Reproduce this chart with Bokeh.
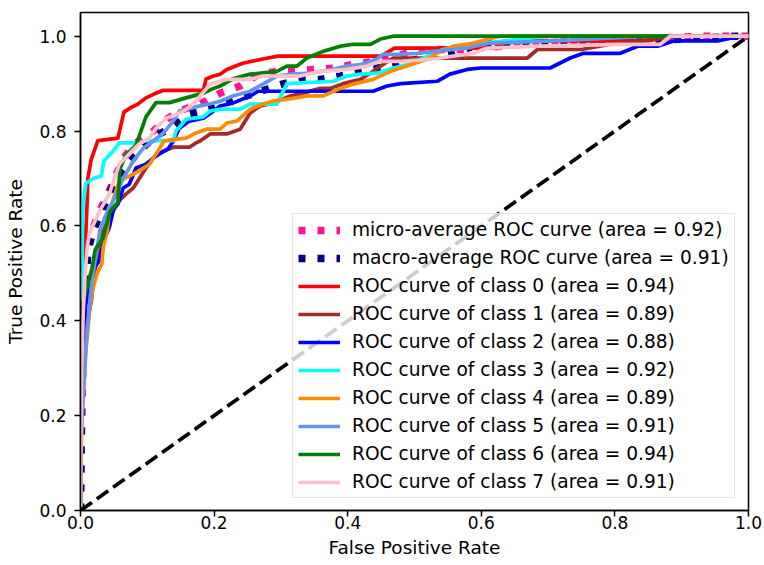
from bokeh.plotting import figure
from bokeh.models import Range1d, FixedTicker, PrintfTickFormatter, Legend, LegendItem
from bokeh.embed import file_html
from bokeh.resources import INLINE

# ---------------- data ----------------
labels = ["micro-average ROC curve (area = 0.92)",
          "macro-average ROC curve (area = 0.91)",
          "ROC curve of class 0 (area = 0.94)",
          "ROC curve of class 1 (area = 0.89)",
          "ROC curve of class 2 (area = 0.88)",
          "ROC curve of class 3 (area = 0.92)",
          "ROC curve of class 4 (area = 0.89)",
          "ROC curve of class 5 (area = 0.91)",
          "ROC curve of class 6 (area = 0.94)",
          "ROC curve of class 7 (area = 0.91)"]

fpr_micro = [0, 0.001, 0.003, 0.006, 0.011, 0.020, 0.028, 0.041, 0.064, 0.083, 0.109, 0.131, 0.148, 0.163, 0.179,
             0.209, 0.239, 0.269, 0.299, 0.354, 0.384, 0.414, 0.444, 0.498, 0.528, 0.579, 0.678, 0.928, 1.0]
tpr_micro = [0, 0.12, 0.27, 0.42, 0.56, 0.60, 0.63, 0.667, 0.743, 0.775, 0.80, 0.827, 0.842, 0.85, 0.857,
             0.88, 0.895, 0.922, 0.926, 0.93, 0.933, 0.943, 0.947, 0.968, 0.972, 0.972, 0.985, 1.0, 1.0]

fpr_macro = [0, 0.002, 0.005, 0.008, 0.011, 0.019, 0.053, 0.088, 0.113, 0.139, 0.163, 0.193, 0.216, 0.302, 0.329,
             0.359, 0.389, 0.419, 0.479, 0.524, 0.558, 0.60, 0.85, 0.98, 1.0]
tpr_macro = [0, 0.30, 0.42, 0.48, 0.547, 0.59, 0.70, 0.758, 0.79, 0.81, 0.836, 0.846, 0.859, 0.899, 0.909,
             0.909, 0.916, 0.926, 0.943, 0.958, 0.964, 0.985, 0.99, 1.0, 1.0]

fpr0 = [0, 0.001, 0.002, 0.004, 0.010, 0.011, 0.016, 0.026, 0.056, 0.065, 0.076, 0.086, 0.098, 0.110, 0.124,
        0.184, 0.188, 0.199, 0.209, 0.219, 0.243, 0.273, 0.296, 0.45, 0.47, 0.62, 0.64, 0.85, 0.88, 1.0]
tpr0 = [0, 0.30, 0.44, 0.46, 0.65, 0.70, 0.74, 0.78, 0.785, 0.84, 0.85, 0.857, 0.87, 0.878, 0.886,
        0.886, 0.91, 0.916, 0.92, 0.93, 0.943, 0.952, 0.958, 0.958, 0.975, 0.975, 0.99, 0.99, 1.0, 1.0]

fpr1 = [0, 0.001, 0.008, 0.017, 0.019, 0.025, 0.029, 0.034, 0.043, 0.058, 0.068, 0.079, 0.088, 0.098, 0.109,
        0.124, 0.139, 0.163, 0.173, 0.179, 0.194, 0.219, 0.239, 0.254, 0.269, 0.288, 0.314, 0.333, 0.359, 0.374,
        0.393, 0.419, 0.434, 0.449, 0.468, 0.669, 0.684, 0.75, 0.80, 0.90, 1.0]
tpr1 = [0, 0.25, 0.38, 0.448, 0.484, 0.533, 0.568, 0.59, 0.617, 0.653, 0.667, 0.68, 0.70, 0.722, 0.743,
        0.758, 0.766, 0.766, 0.775, 0.779, 0.794, 0.794, 0.804, 0.838, 0.853, 0.859, 0.874, 0.88, 0.89, 0.89,
        0.90, 0.909, 0.922, 0.937, 0.954, 0.954, 0.972, 0.972, 0.985, 1.0, 1.0]

fpr2 = [0, 0.001, 0.004, 0.010, 0.017, 0.028, 0.035, 0.043, 0.050, 0.056, 0.061, 0.064, 0.073, 0.083, 0.098,
        0.109, 0.118, 0.131, 0.139, 0.148, 0.163, 0.184, 0.199, 0.209, 0.228, 0.254, 0.266, 0.438, 0.459, 0.479,
        0.534, 0.553, 0.579, 0.599, 0.703, 0.733, 0.753, 0.808, 0.834, 0.864, 0.888, 0.954, 0.973, 0.992, 1.0]
tpr2 = [0, 0.23, 0.38, 0.46, 0.505, 0.526, 0.57, 0.596, 0.638, 0.646, 0.667, 0.68, 0.688, 0.722, 0.73,
        0.743, 0.752, 0.762, 0.779, 0.806, 0.821, 0.827, 0.842, 0.853, 0.859, 0.874, 0.884, 0.884, 0.895, 0.90,
        0.905, 0.92, 0.93, 0.933, 0.933, 0.954, 0.964, 0.964, 0.979, 0.979, 0.99, 0.99, 0.996, 1.0, 1.0]

fpr3 = [0, 0.001, 0.002, 0.003, 0.004, 0.008, 0.019, 0.031, 0.035, 0.049, 0.058, 0.088, 0.098, 0.139, 0.143,
        0.158, 0.184, 0.194, 0.209, 0.239, 0.254, 0.294, 0.309, 0.378, 0.399, 0.419, 0.444, 0.468, 0.498, 0.528,
        0.543, 0.57, 0.70, 1.0]
tpr3 = [0, 0.23, 0.44, 0.61, 0.646, 0.69, 0.70, 0.705, 0.737, 0.758, 0.775, 0.775, 0.78, 0.78, 0.80,
        0.825, 0.83, 0.842, 0.846, 0.846, 0.857, 0.857, 0.90, 0.905, 0.916, 0.92, 0.922, 0.933, 0.943, 0.964,
        0.972, 0.98, 1.0, 1.0]

fpr4 = [0, 0.002, 0.008, 0.011, 0.014, 0.019, 0.025, 0.032, 0.034, 0.040, 0.043, 0.058, 0.065, 0.073, 0.080,
        0.088, 0.103, 0.116, 0.125, 0.143, 0.158, 0.173, 0.188, 0.209, 0.219, 0.234, 0.254, 0.273, 0.288, 0.318,
        0.339, 0.363, 0.389, 0.408, 0.438, 0.464, 0.489, 0.519, 0.539, 0.558, 0.588, 0.599, 0.628, 1.0]
tpr4 = [0, 0.19, 0.34, 0.38, 0.43, 0.47, 0.50, 0.52, 0.554, 0.59, 0.63, 0.695, 0.70, 0.705, 0.71,
        0.716, 0.73, 0.758, 0.779, 0.783, 0.785, 0.796, 0.804, 0.804, 0.817, 0.821, 0.846, 0.857, 0.863, 0.869,
        0.874, 0.874, 0.89, 0.899, 0.909, 0.926, 0.937, 0.952, 0.968, 0.979, 0.985, 0.99, 1.0, 1.0]

fpr5 = [0, 0.001, 0.004, 0.010, 0.017, 0.025, 0.029, 0.037, 0.049, 0.064, 0.079, 0.094, 0.109, 0.124, 0.139,
        0.148, 0.169, 0.179, 0.193, 0.209, 0.228, 0.254, 0.294, 0.318, 0.344, 0.378, 0.399, 0.419, 0.444, 0.453,
        0.479, 0.504, 0.528, 0.558, 0.579, 0.609, 0.708, 0.85, 1.0]
tpr5 = [0, 0.15, 0.246, 0.38, 0.484, 0.554, 0.59, 0.62, 0.653, 0.70, 0.737, 0.764, 0.779, 0.796, 0.821,
        0.842, 0.85, 0.853, 0.857, 0.863, 0.874, 0.884, 0.916, 0.92, 0.922, 0.93, 0.937, 0.94, 0.952, 0.962,
        0.962, 0.964, 0.968, 0.972, 0.975, 0.985, 0.99, 1.0, 1.0]

fpr6 = [0, 0.002, 0.017, 0.022, 0.034, 0.044, 0.056, 0.059, 0.068, 0.083, 0.098, 0.113, 0.133, 0.158, 0.184,
        0.199, 0.209, 0.228, 0.254, 0.294, 0.309, 0.324, 0.339, 0.363, 0.389, 0.408, 0.434, 0.449, 0.468, 1.0]
tpr6 = [0, 0.43, 0.51, 0.55, 0.575, 0.63, 0.65, 0.72, 0.75, 0.77, 0.83, 0.86, 0.86, 0.87, 0.88,
        0.89, 0.895, 0.91, 0.92, 0.926, 0.937, 0.937, 0.954, 0.968, 0.979, 0.983, 0.983, 0.994, 1.0, 1.0]

fpr7 = [0, 0.001, 0.002, 0.004, 0.007, 0.010, 0.013, 0.028, 0.043, 0.058, 0.073, 0.088, 0.103, 0.113, 0.128,
        0.139, 0.154, 0.169, 0.179, 0.194, 0.219, 0.254, 0.273, 0.329, 0.359, 0.399, 0.429, 0.449, 0.479, 0.528,
        0.558, 0.588, 0.609, 0.688, 0.808, 0.868, 0.883, 1.0]
tpr7 = [0, 0.2, 0.31, 0.415, 0.50, 0.554, 0.583, 0.63, 0.667, 0.73, 0.752, 0.773, 0.785, 0.806, 0.827,
        0.832, 0.842, 0.857, 0.874, 0.899, 0.909, 0.909, 0.916, 0.916, 0.926, 0.93, 0.937, 0.947, 0.947, 0.952,
        0.958, 0.964, 0.975, 0.979, 0.983, 0.983, 1.0, 1.0]

diag_x = [0, 1]
diag_y = [0, 1]

x_ticks = [0.0, 0.2, 0.4, 0.6, 0.8, 1.0]
y_ticks = [0.0, 0.2, 0.4, 0.6, 0.8, 1.0]

class_fpr = [fpr0, fpr1, fpr2, fpr3, fpr4, fpr5, fpr6, fpr7]
class_tpr = [tpr0, tpr1, tpr2, tpr3, tpr4, tpr5, tpr6, tpr7]
class_colors = ["red", "brown", "blue", "cyan", "darkorange", "cornflowerblue", "green", "pink"]

# ---------------- figure ----------------
FONT = "DejaVu Sans"
p = figure(width=764, height=565, output_backend="svg", toolbar_location=None,
           x_range=Range1d(0, 1.0), y_range=Range1d(0, 1.05),
           min_border_left=80, min_border_right=16, min_border_top=12, min_border_bottom=55,
           background_fill_color="white", border_fill_color="white")
p.xgrid.visible = False
p.ygrid.visible = False
p.outline_line_color = "black"
p.outline_line_width = 1.5
p.outline_line_alpha = 1.0

for ax in (p.xaxis[0], p.yaxis[0]):
    ax.axis_line_color = "black"
    ax.axis_line_width = 1.5
    ax.major_tick_line_color = "black"
    ax.major_tick_line_width = 1.5
    ax.major_tick_out = 6
    ax.major_tick_in = 0
    ax.minor_tick_line_color = None
    ax.major_label_text_font = FONT
    ax.major_label_text_font_size = "17px"
    ax.major_label_text_color = "black"
    ax.axis_label_text_font = FONT
    ax.axis_label_text_font_size = "18.5px"
    ax.axis_label_text_font_style = "normal"
    ax.axis_label_text_color = "black"
    ax.formatter = PrintfTickFormatter(format="%.1f")

p.xaxis[0].ticker = FixedTicker(ticks=x_ticks)
p.yaxis[0].ticker = FixedTicker(ticks=y_ticks)
p.xaxis[0].axis_label = "False Positive Rate"
p.yaxis[0].axis_label = "True Positive Rate"
p.xaxis[0].major_label_standoff = -1
p.xaxis[0].axis_label_standoff = 5
p.yaxis[0].major_label_standoff = 8
p.yaxis[0].axis_label_standoff = 10

items = []
r = p.line(fpr_micro, tpr_micro, line_color="deeppink", line_width=7.4, line_dash="7 12",
           line_cap="butt")
items.append(LegendItem(label=labels[0], renderers=[r]))
r = p.line(fpr_macro, tpr_macro, line_color="navy", line_width=7.4, line_dash="7 12",
           line_cap="butt")
items.append(LegendItem(label=labels[1], renderers=[r]))
for i in range(8):
    r = p.line(class_fpr[i], class_tpr[i], line_color=class_colors[i], line_width=3.7,
               line_join="round")
    items.append(LegendItem(label=labels[i + 2], renderers=[r]))

p.line(diag_x, diag_y, line_color="black", line_width=3.7, line_dash="14 6", line_cap="butt")

legend = Legend(items=items, location=(212, 12), orientation="vertical")
legend.label_text_font = FONT
legend.label_text_font_size = "18.6px"
legend.label_text_color = "black"
legend.glyph_width = 42
legend.glyph_height = 20
legend.label_height = 20
legend.spacing = 7
legend.padding = 5
legend.margin = 0
legend.label_standoff = 12
legend.border_line_color = "#cccccc"
legend.border_line_width = 1
legend.background_fill_color = "white"
legend.background_fill_alpha = 0.8
p.add_layout(legend)

open("out.html", "w").write(file_html(p, INLINE))
